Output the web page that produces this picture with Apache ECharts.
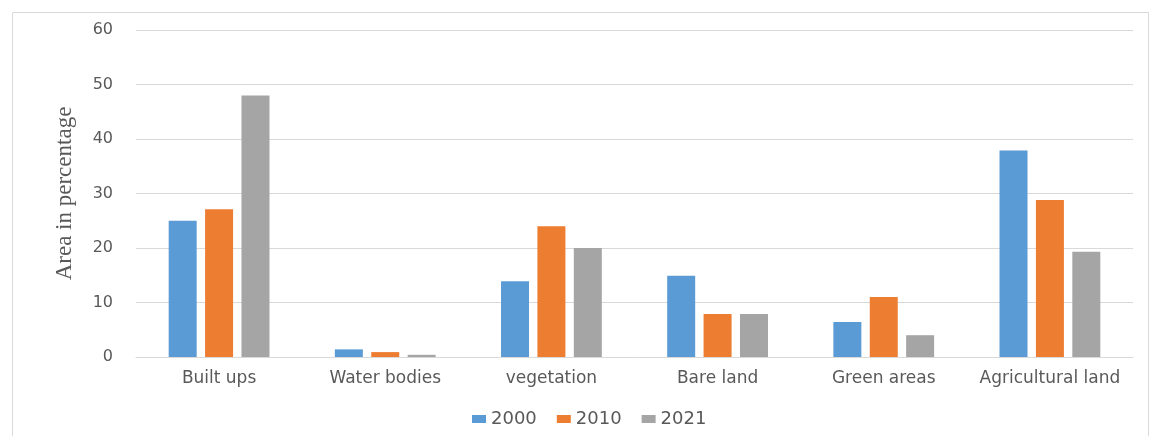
<!DOCTYPE html>
<html>
<head>
<meta charset="utf-8">
<script src="https://cdn.jsdelivr.net/npm/echarts@6/dist/echarts.min.js"></script>
<style>html,body{margin:0;padding:0;background:#fff;}#c{width:1150px;height:436px;}</style>
</head>
<body>
<div id="c"></div>
<script>
const categories = ['Built ups', 'Water bodies', 'vegetation', 'Bare land', 'Green areas', 'Agricultural land'];
const years = ['2000', '2010', '2021'];
const values2000 = [25, 1.4, 13.9, 14.9, 6.4, 37.9];
const values2010 = [27.1, 0.9, 24, 7.9, 11, 28.8];
const values2021 = [48, 0.4, 20, 7.9, 4, 19.3];
const colors = ['#5b9bd5', '#ed7d31', '#a5a5a5'];

const chart = echarts.init(document.getElementById('c'), null, {renderer: 'canvas'});
const seriesData = [values2000, values2010, values2021];
chart.setOption({
  animation: false,
  backgroundColor: '#fff',
  graphic: [{
    type: 'rect', left: 10, top: 10,
    shape: {width: 1136, height: 440},
    style: {fill: 'none', stroke: '#d9d9d9', lineWidth: 1}
  }],
  grid: {left: 136, right: 17, top: 30, bottom: 79},
  legend: {
    data: years, left: 467, top: 405, itemWidth: 14, itemHeight: 8, itemGap: 20,
    icon: 'rect',
    textStyle: {fontFamily: 'DejaVu Sans', fontSize: 18, color: '#595959'}
  },
  xAxis: {
    type: 'category', data: categories,
    axisLine: {show: true, lineStyle: {color: '#d9d9d9'}},
    axisTick: {show: false},
    axisLabel: {fontFamily: 'DejaVu Sans', fontSize: 17, color: '#595959', margin: 13, interval: 0}
  },
  yAxis: {
    type: 'value', min: 0, max: 60, interval: 10,
    name: 'Area in percentage', nameLocation: 'middle', nameGap: 60, nameRotate: 90,
    nameTextStyle: {fontFamily: 'Liberation Serif', fontSize: 23, color: '#595959'},
    axisLine: {show: false}, axisTick: {show: false},
    axisLabel: {fontFamily: 'DejaVu Sans', fontSize: 16, color: '#595959', margin: 23},
    splitLine: {lineStyle: {color: '#d9d9d9'}}
  },
  series: years.map((y, i) => ({
    name: y, type: 'bar', data: seriesData[i],
    itemStyle: {color: colors[i]},
    barWidth: 28, barGap: '30%'
  }))
});
</script>
</body>
</html>
